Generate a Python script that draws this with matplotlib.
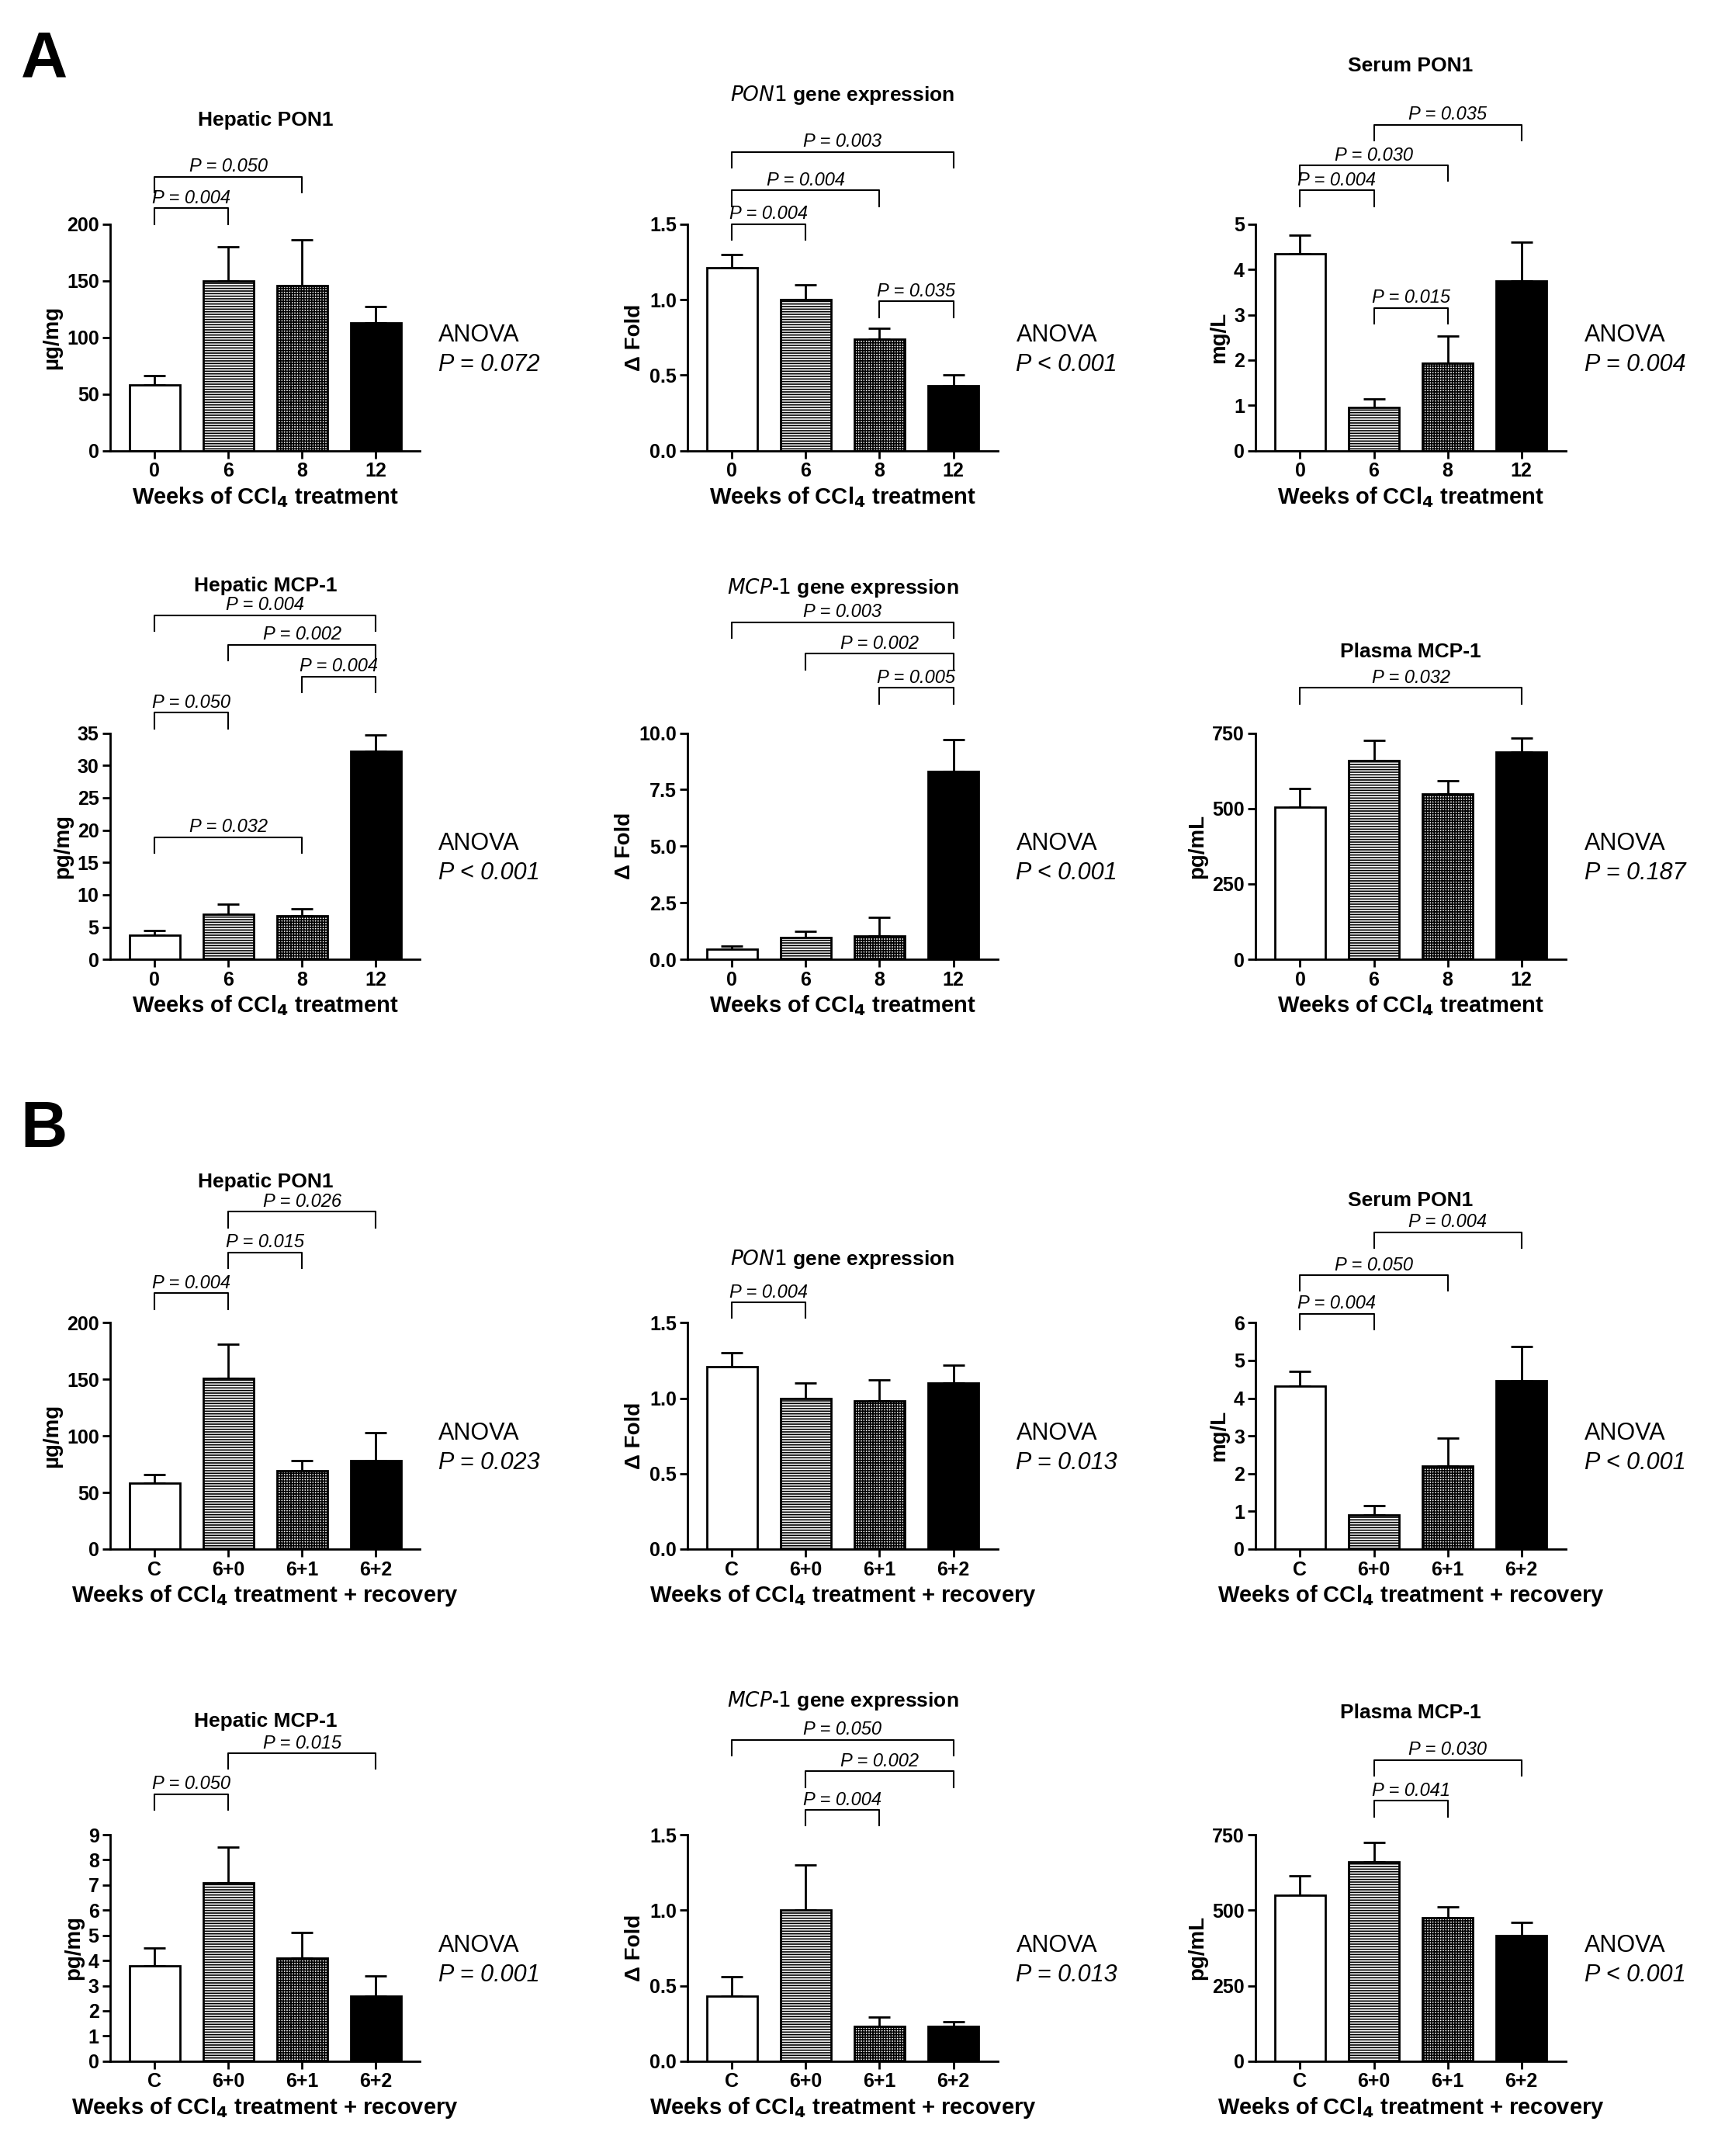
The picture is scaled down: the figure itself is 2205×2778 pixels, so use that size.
import matplotlib.pyplot as plt
import numpy as np

plt.rcParams['font.family'] = ['Liberation Sans', 'DejaVu Sans']
plt.rcParams['hatch.linewidth'] = 1.2

groups_a = ['0', '6', '8', '12']
groups_b = ['C', '6+0', '6+1', '6+2']

# panel data: title, ylabel, means, errors, ylim, yticks, fmt, brackets, anova, title_y
a1_mean = [58, 150, 146, 113]; a1_err = [8, 30, 40, 14]
a2_mean = [1.21, 1.00, 0.74, 0.43]; a2_err = [0.09, 0.10, 0.07, 0.07]
a3_mean = [4.35, 0.95, 1.93, 3.75]; a3_err = [0.4, 0.2, 0.6, 0.85]
a4_mean = [3.7, 7.0, 6.8, 32.2]; a4_err = [0.8, 1.5, 1.0, 2.5]
a5_mean = [0.45, 0.95, 1.05, 8.3]; a5_err = [0.15, 0.3, 0.8, 1.4]
a6_mean = [505, 660, 548, 688]; a6_err = [60, 65, 45, 45]
b1_mean = [58, 151, 69, 78]; b1_err = [8, 30, 9, 25]
b2_mean = [1.21, 1.00, 0.98, 1.10]; b2_err = [0.09, 0.10, 0.14, 0.12]
b3_mean = [4.32, 0.9, 2.2, 4.47]; b3_err = [0.4, 0.25, 0.75, 0.9]
b4_mean = [3.8, 7.1, 4.1, 2.6]; b4_err = [0.7, 1.4, 1.0, 0.8]
b5_mean = [0.43, 1.0, 0.23, 0.23]; b5_err = [0.13, 0.3, 0.06, 0.03]
b6_mean = [550, 660, 475, 415]; b6_err = [65, 65, 35, 45]

panels = [
    ('Hepatic PON1', 'µg/mg', a1_mean, a1_err, 200, [0, 50, 100, 150, 200], '%d',
     [(0, 1, 1.07, '0.004'), (0, 2, 1.21, '0.050')], 'P = 0.072', 1.46),
    (r'$\bf\it{PON1}$ gene expression', 'Δ Fold', a2_mean, a2_err, 1.5, [0, 0.5, 1.0, 1.5], '%.1f',
     [(0, 1, 1.0, '0.004'), (0, 2, 1.15, '0.004'), (0, 3, 1.32, '0.003'), (2, 3, 0.66, '0.035')], 'P < 0.001', 1.57),
    ('Serum PON1', 'mg/L', a3_mean, a3_err, 5, [0, 1, 2, 3, 4, 5], '%d',
     [(0, 1, 1.15, '0.004'), (0, 2, 1.26, '0.030'), (1, 3, 1.44, '0.035'), (1, 2, 0.63, '0.015')], 'P = 0.004', 1.70),
    ('Hepatic MCP-1', 'pg/mg', a4_mean, a4_err, 35, [0, 5, 10, 15, 20, 25, 30, 35], '%d',
     [(0, 1, 1.09, '0.050'), (0, 2, 0.54, '0.032'), (2, 3, 1.25, '0.004'), (1, 3, 1.39, '0.002'), (0, 3, 1.52, '0.004')],
     'P < 0.001', 1.65),
    (r'$\bf\it{MCP}$-$\bf\it{1}$ gene expression', 'Δ Fold', a5_mean, a5_err, 10, [0, 2.5, 5, 7.5, 10], '%.1f',
     [(2, 3, 1.2, '0.005'), (1, 3, 1.35, '0.002'), (0, 3, 1.49, '0.003')], 'P < 0.001', 1.64),
    ('Plasma MCP-1', 'pg/mL', a6_mean, a6_err, 750, [0, 250, 500, 750], '%d',
     [(0, 3, 1.2, '0.032')], 'P = 0.187', 1.36),
    ('Hepatic PON1', 'µg/mg', b1_mean, b1_err, 200, [0, 50, 100, 150, 200], '%d',
     [(0, 1, 1.13, '0.004'), (1, 2, 1.31, '0.015'), (1, 3, 1.49, '0.026')], 'P = 0.023', 1.62),
    (r'$\bf\it{PON1}$ gene expression', 'Δ Fold', b2_mean, b2_err, 1.5, [0, 0.5, 1.0, 1.5], '%.1f',
     [(0, 1, 1.09, '0.004')], 'P = 0.013', 1.28),
    ('Serum PON1', 'mg/L', b3_mean, b3_err, 6, [0, 1, 2, 3, 4, 5, 6], '%d',
     [(0, 1, 1.04, '0.004'), (0, 2, 1.21, '0.050'), (1, 3, 1.40, '0.004')], 'P < 0.001', 1.54),
    ('Hepatic MCP-1', 'pg/mg', b4_mean, b4_err, 9, list(range(10)), '%d',
     [(0, 1, 1.18, '0.050'), (1, 3, 1.36, '0.015')], 'P = 0.001', 1.50),
    (r'$\bf\it{MCP}$-$\bf\it{1}$ gene expression', 'Δ Fold', b5_mean, b5_err, 1.5, [0, 0.5, 1.0, 1.5], '%.1f',
     [(1, 2, 1.11, '0.004'), (1, 3, 1.28, '0.002'), (0, 3, 1.42, '0.050')], 'P = 0.013', 1.59),
    ('Plasma MCP-1', 'pg/mL', b6_mean, b6_err, 750, [0, 250, 500, 750], '%d',
     [(1, 2, 1.15, '0.041'), (1, 3, 1.33, '0.030')], 'P < 0.001', 1.54),
]

col_x = [0.0645, 0.402, 0.734]
row_b = [0.791, 0.555, 0.2815, 0.044]
w, h = 0.181, 0.105

fig = plt.figure(figsize=(22.05, 27.78), dpi=100)
faces = ['white', 'white', 'white', 'black']
hatches = [None, '-----', '+++++', None]

for i, (title, ylab, mean, err, ytop, yt, fmt, brackets, anova, ty) in enumerate(panels):
    r, c = divmod(i, 3)
    ax = fig.add_axes([col_x[c], row_b[r], w, h])
    x = np.arange(4)
    ax.bar(x, mean, width=0.68, color=faces, edgecolor='black', hatch=hatches, linewidth=2, zorder=2)
    ax.errorbar(x, mean, yerr=[np.zeros(4), err], fmt='none', ecolor='black', elinewidth=2,
                capsize=10, capthick=2, zorder=1)
    ax.set_xlim(-0.6, 3.6)
    ax.set_ylim(0, ytop)
    ax.set_yticks(yt)
    ax.set_yticklabels([fmt % v for v in yt])
    ax.set_xticks(x)
    ax.set_xticklabels(groups_a if r < 2 else groups_b, fontweight='bold')
    for s in ['top', 'right']:
        ax.spines[s].set_visible(False)
    for s in ['left', 'bottom']:
        ax.spines[s].set_linewidth(2)
    ax.tick_params(width=2, length=7, labelsize=18)
    for lab in ax.get_yticklabels():
        lab.set_fontweight('bold')
    ax.set_ylabel(ylab, fontsize=20, fontweight='bold')
    xl = 'Weeks of CCl$_\\mathbf{4}$ treatment' if r < 2 else 'Weeks of CCl$_\\mathbf{4}$ treatment + recovery'
    ax.set_xlabel(xl, fontsize=21, fontweight='bold', labelpad=4)
    ax.text(0.5, ty, title, transform=ax.transAxes, ha='center', va='center', fontsize=19, fontweight='bold')
    tr = ax.get_xaxis_transform()
    for (g1, g2, yb, p) in brackets:
        ax.plot([g1, g1, g2, g2], [yb - 0.07, yb, yb, yb - 0.07], color='black', lw=1.5,
                transform=tr, clip_on=False)
        ax.text((g1 + g2) / 2, yb + 0.005, 'P = ' + p, transform=tr, ha='center', va='bottom',
                fontsize=17, style='italic')
    ax.text(1.06, 0.51, 'ANOVA', transform=ax.transAxes, fontsize=22, va='center')
    ax.text(1.06, 0.38, anova, transform=ax.transAxes, fontsize=22, va='center', style='italic')

fig.text(0.012, 0.972, 'A', fontsize=60, fontweight='bold', va='center')
fig.text(0.012, 0.476, 'B', fontsize=60, fontweight='bold', va='center')
fig.savefig('out.png', dpi=100)
